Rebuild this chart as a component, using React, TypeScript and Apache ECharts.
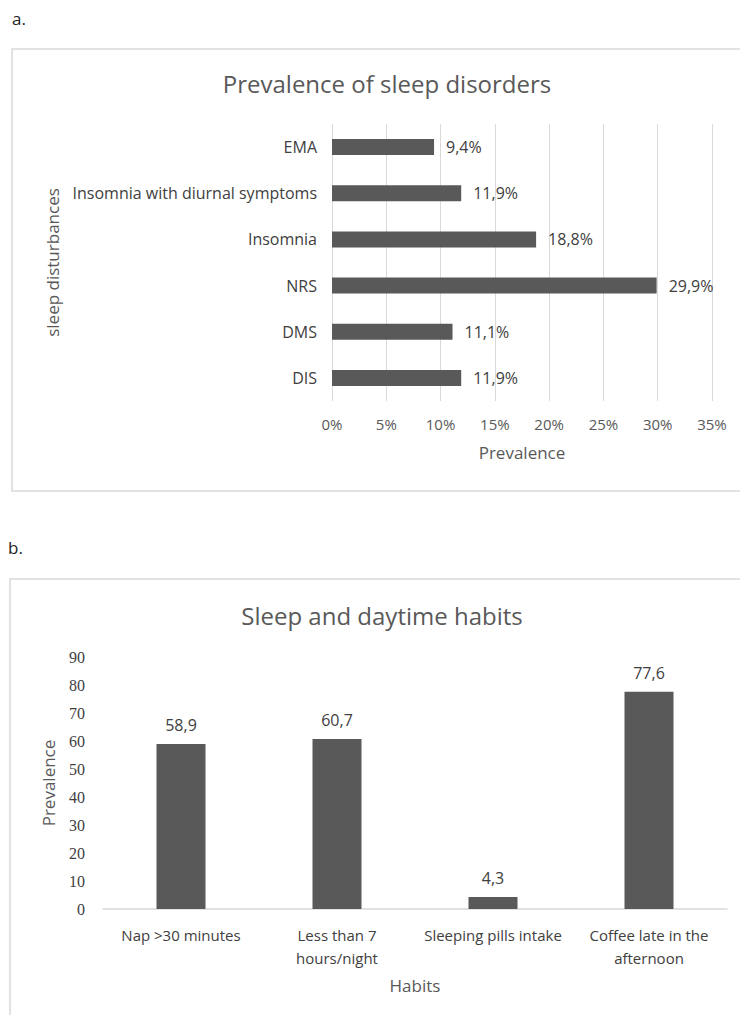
import React, { useEffect, useRef } from "react";
import * as echarts from "echarts";

const sleepCategories = ["DIS", "DMS", "NRS", "Insomnia", "Insomnia with diurnal symptoms", "EMA"];
const sleepValues = [11.9, 11.1, 29.9, 18.8, 11.9, 9.4];
const habitCategories = ["Nap >30 minutes", "Less than 7\nhours/night", "Sleeping pills intake", "Coffee late in the\nafternoon"];
const habitValues = [58.9, 60.7, 4.3, 77.6];

const FONT = "Open Sans";
const TXT = "#595959";
const DARK = "#404040";
const BAR = "#595959";
const GRIDC = "#d9d9d9";

const comma = (v: number) => String(v).replace(".", ",");

export default function App() {
  const ref = useRef<HTMLDivElement>(null);
  useEffect(() => {
    if (!ref.current) return;
    const chart = echarts.init(ref.current, null, { renderer: "svg" });
    chart.setOption({
      animation: false,
      backgroundColor: "#ffffff",
      textStyle: { fontFamily: FONT },
      title: [
        {
          text: "Prevalence of sleep disorders",
          left: 382,
          top: 66,
          textAlign: "center",
          textStyle: { fontFamily: FONT, fontSize: 24, fontWeight: "normal", color: TXT },
        },
        {
          text: "Sleep and daytime habits",
          left: 377,
          top: 598,
          textAlign: "center",
          textStyle: { fontFamily: FONT, fontSize: 24, fontWeight: "normal", color: TXT },
        },
      ],
      graphic: [
        { type: "rect", shape: { x: 12, y: 49, width: 760, height: 442 }, style: { fill: "none", stroke: GRIDC, lineWidth: 1.5 } },
        { type: "rect", shape: { x: 10, y: 579, width: 760, height: 500 }, style: { fill: "none", stroke: GRIDC, lineWidth: 1.5 } },
        { type: "text", x: 12, y: 18, style: { text: "a.", font: `17px ${FONT}`, fill: "#222", verticalAlign: "middle" } },
        { type: "text", x: 8, y: 547, style: { text: "b.", font: `17px ${FONT}`, fill: "#222", verticalAlign: "middle" } },
      ],
      grid: [
        { left: 332, right: 28, top: 124, height: 277 },
        { left: 103, right: 13, top: 657, height: 252 },
      ],
      xAxis: [
        {
          gridIndex: 0,
          type: "value",
          min: 0,
          max: 35,
          interval: 5,
          axisLine: { show: false },
          axisTick: { show: false },
          splitLine: { show: true, lineStyle: { color: GRIDC, width: 1 } },
          axisLabel: { formatter: "{value}%", color: TXT, fontSize: 15, fontFamily: FONT, margin: 15 },
          name: "Prevalence",
          nameLocation: "middle",
          nameGap: 43,
          nameTextStyle: { color: TXT, fontSize: 17, fontFamily: FONT },
        },
        {
          gridIndex: 1,
          type: "category",
          data: habitCategories,
          axisLine: { show: true, lineStyle: { color: GRIDC, width: 1.5 } },
          axisTick: { show: false },
          axisLabel: { color: DARK, fontSize: 15, fontFamily: FONT, margin: 14, lineHeight: 23, interval: 0 },
          name: "Habits",
          nameLocation: "middle",
          nameGap: 68,
          nameTextStyle: { color: TXT, fontSize: 17, fontFamily: FONT },
        },
      ],
      yAxis: [
        {
          gridIndex: 0,
          type: "category",
          data: sleepCategories,
          axisLine: { show: false },
          axisTick: { show: false },
          axisLabel: { color: DARK, fontSize: 16, fontFamily: FONT, margin: 15 },
          name: "sleep disturbances",
          nameLocation: "middle",
          nameGap: 271,
          nameTextStyle: { color: TXT, fontSize: 17, fontFamily: FONT },
        },
        {
          gridIndex: 1,
          type: "value",
          min: 0,
          max: 90,
          interval: 10,
          axisLine: { show: false },
          axisTick: { show: false },
          splitLine: { show: false },
          axisLabel: { color: DARK, fontSize: 16, fontFamily: "Liberation Serif", margin: 18 },
          name: "Prevalence",
          nameLocation: "middle",
          nameGap: 46,
          nameTextStyle: { color: TXT, fontSize: 17, fontFamily: FONT },
        },
      ],
      series: [
        {
          type: "bar",
          xAxisIndex: 0,
          yAxisIndex: 0,
          data: sleepValues,
          barWidth: 16,
          itemStyle: { color: BAR },
          label: {
            show: true,
            position: "right",
            distance: 12,
            formatter: (p: any) => comma(p.value) + "%",
            color: DARK,
            fontSize: 16,
            fontFamily: FONT,
          },
        },
        {
          type: "bar",
          xAxisIndex: 1,
          yAxisIndex: 1,
          data: habitValues,
          barWidth: 49,
          itemStyle: { color: BAR },
          label: {
            show: true,
            position: "top",
            distance: 11,
            formatter: (p: any) => comma(p.value),
            color: DARK,
            fontSize: 16,
            fontFamily: FONT,
          },
        },
      ],
    });
    return () => chart.dispose();
  }, []);
  return <div ref={ref} style={{ position: "absolute", left: 0, top: 0, width: 740, height: 1015 }} />;
}
